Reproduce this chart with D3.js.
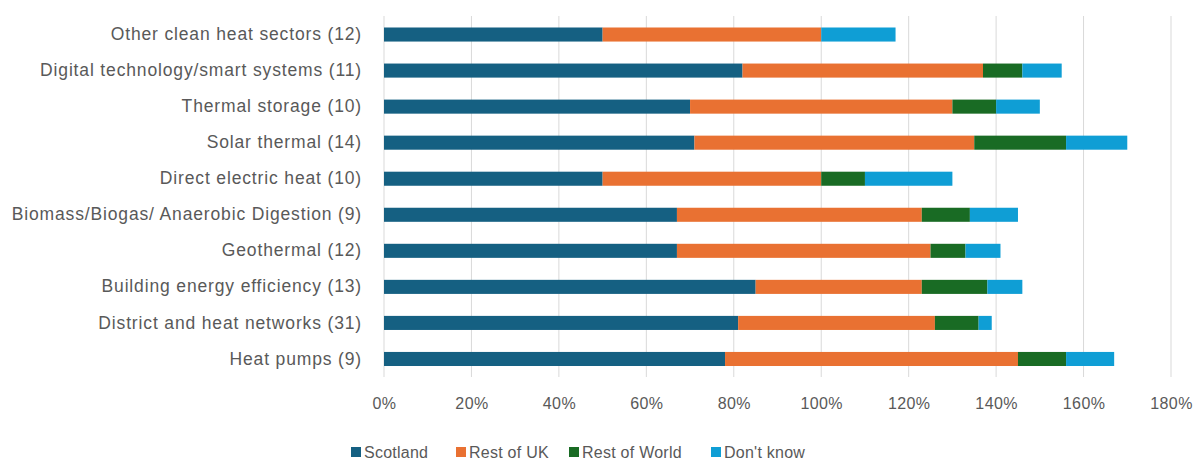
<!DOCTYPE html>
<html><head><meta charset="utf-8">
<script src="https://cdn.jsdelivr.net/npm/d3@7"></script>
<style>body{margin:0;background:#fff}svg{display:block}text{font-family:"Liberation Sans",Arial,sans-serif;fill:#595959}</style>
</head><body><svg id="c" width="1204" height="460"></svg>
<script>
const categories = ["Other clean heat sectors (12)","Digital technology/smart systems (11)","Thermal storage (10)","Solar thermal (14)","Direct electric heat (10)","Biomass/Biogas/ Anaerobic Digestion (9)","Geothermal (12)","Building energy efficiency (13)","District and heat networks (31)","Heat pumps (9)"];
const seriesNames = ["Scotland","Rest of UK","Rest of World","Don't know"];
const scotland    = [50,82,70,71,50,67,67,85,81,78];
const restOfUK    = [50,55,60,64,50,56,58,38,45,67];
const restOfWorld = [0,9,10,21,10,11,8,15,10,11];
const dontKnow    = [17,9,10,14,20,11,8,8,3,11];
const xTicks = [0,20,40,60,80,100,120,140,160,180];
const colors = ["#156082","#E97132","#196B24","#0F9ED5"];

const svg = d3.select("#c");
const x = d3.scaleLinear().domain([0,180]).range([384,1171]);
const y = d3.scaleBand().domain(categories).range([16.5,377]).paddingInner(0.61).paddingOuter(0.305);

const rows = categories.map((c,i)=>({cat:c,"Scotland":scotland[i],"Rest of UK":restOfUK[i],"Rest of World":restOfWorld[i],"Don't know":dontKnow[i]}));
const stack = d3.stack().keys(seriesNames)(rows);

// gridlines
svg.append("g").selectAll("line").data(xTicks).join("line")
  .attr("x1",d=>x(d)).attr("x2",d=>x(d)).attr("y1",16).attr("y2",377)
  .attr("stroke","#d9d9d9").attr("stroke-width",1);

// bars
svg.append("g").selectAll("g").data(stack).join("g").attr("fill",(d,i)=>colors[i])
  .selectAll("rect").data(d=>d).join("rect")
  .attr("x",d=>x(d[0])).attr("width",d=>x(d[1])-x(d[0]))
  .attr("y",d=>y(d.data.cat)).attr("height",y.bandwidth());

// x axis labels
const xa = svg.append("g").attr("transform","translate(0,384)")
  .call(d3.axisBottom(x).tickValues(xTicks).tickFormat(d=>d+"%").tickSize(0).tickPadding(14));
xa.select(".domain").remove();
xa.selectAll("text").style("font-size","16px").style("letter-spacing","0.4px").style("font-family","Liberation Sans, Arial, sans-serif").attr("fill","#595959");

// y labels
const ya = svg.append("g").attr("transform","translate(362,0)")
  .call(d3.axisLeft(y).tickSize(0).tickPadding(0));
ya.select(".domain").remove();
ya.selectAll("text").style("font-size","17.5px").style("letter-spacing","0.85px").style("font-family","Liberation Sans, Arial, sans-serif").attr("fill","#595959");

// legend
const legX = [351,456,569,711];
const lg = svg.append("g").selectAll("g").data(seriesNames).join("g")
  .attr("transform",(d,i)=>`translate(${legX[i]},452)`);
lg.append("rect").attr("x",0).attr("y",-5).attr("width",10).attr("height",10).attr("fill",(d,i)=>colors[i]);
lg.append("text").attr("x",13).attr("dy","0.35em").style("font-size","16px").style("letter-spacing","0.25px").text(d=>d);
</script></body></html>
